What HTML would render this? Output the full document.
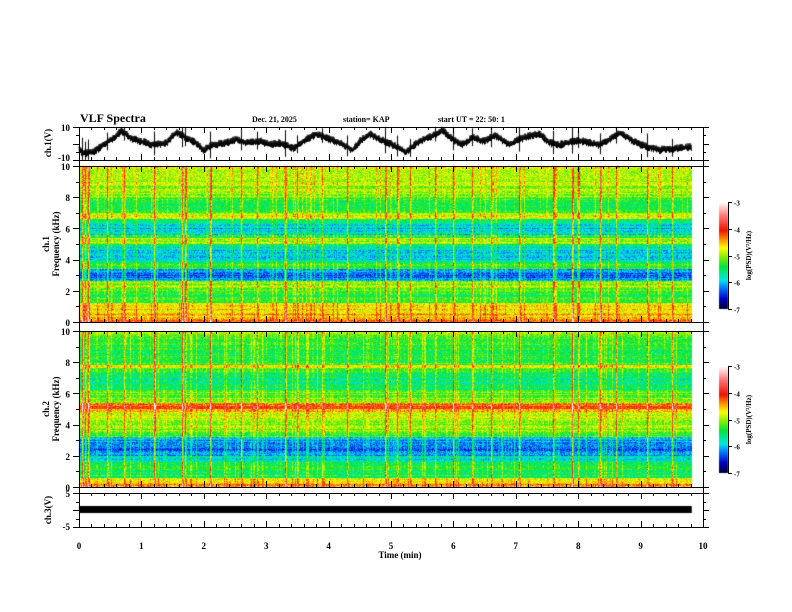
<!DOCTYPE html>
<html><head><meta charset="utf-8">
<style>
html,body{margin:0;padding:0;background:#fff;width:792px;height:612px;overflow:hidden}
#wrap{position:relative;width:792px;height:612px}
canvas,svg{position:absolute;left:0;top:0}
text{font-family:"Liberation Serif",serif;font-weight:bold;fill:#000}
</style></head><body>
<div id="wrap">
<canvas id="spec" width="792" height="612"></canvas>
<svg id="ax" width="792" height="612"></svg>
</div>
<script>
// ---- data ----
const freqBins = [0,0.2,0.4,0.6,0.8,1.0,1.2,1.4,1.6,1.8,2.0,2.2,2.4,2.6,2.8,3.0,3.2,3.4,3.6,3.8,4.0,4.2,4.4,4.6,4.8,5.0,5.2,5.4,5.6,5.8,6.0,6.2,6.4,6.6,6.8,7.0,7.2,7.4,7.6,7.8,8.0,8.2,8.4,8.6,8.8,9.0,9.2,9.4,9.6,9.8];
const ch1Profile = [-4.3,-4.6,-4.5,-4.8,-4.6,-4.7,-5.3,-5.4,-5.4,-5.3,-5.2,-4.9,-5.1,-6.0,-6.3,-6.3,-6.1,-5.4,-5.3,-5.7,-5.9,-6.0,-5.9,-5.9,-5.5,-5.0,-5.0,-5.4,-5.9,-6.0,-5.9,-5.8,-5.5,-4.8,-4.9,-5.4,-5.4,-5.4,-5.3,-5.3,-5.1,-5.0,-5.0,-5.0,-4.9,-5.0,-4.9,-4.9,-4.9,-4.8];
const ch2Profile = [-4.4,-4.6,-4.8,-5.4,-5.5,-5.5,-5.4,-5.4,-5.9,-5.8,-6.1,-6.2,-6.3,-6.2,-6.1,-6.0,-5.3,-5.2,-5.1,-5.0,-5.0,-4.9,-4.9,-4.8,-4.5,-4.1,-4.3,-5.0,-5.1,-5.2,-5.2,-5.5,-5.6,-5.6,-5.7,-5.6,-5.5,-5.3,-4.8,-5.3,-5.4,-5.4,-5.4,-5.4,-5.4,-5.3,-5.3,-5.3,-5.2,-5.1];
const sfericTimes = [0.05,0.1,0.15,0.45,0.72,1.2,1.65,1.7,2.1,2.6,2.85,3.3,3.5,3.9,4.3,4.9,5.1,5.3,5.7,6.0,6.3,6.6,7.05,7.6,7.9,8.0,8.35,8.6,9.1,9.5];
const sfericStrength = [0.9,0.7,0.8,0.6,0.6,0.8,0.9,0.7,0.9,0.7,0.6,0.9,0.6,0.5,0.7,0.9,0.7,0.6,0.5,0.8,0.6,0.7,0.9,0.8,0.9,0.6,0.7,0.6,0.8,0.6];
const traceTimes = [0,0.07,0.23,0.44,0.6,0.68,0.82,0.98,1.19,1.4,1.56,1.72,1.88,1.99,2.15,2.36,2.52,2.68,2.9,3.06,3.22,3.43,3.64,3.8,3.96,4.18,4.39,4.5,4.66,4.82,5.03,5.24,5.46,5.67,5.83,5.99,6.15,6.31,6.47,6.68,6.9,7.06,7.22,7.38,7.54,7.7,8.0,8.35,8.67,8.99,9.31,9.63,9.82];
const traceValues = [-4.0,-6.1,-5.1,0.3,4.6,7.8,3.5,1.4,-0.8,0.3,6.8,3.5,0.3,-4.0,-0.8,0.3,2.5,0.3,1.4,-0.8,0.3,-2.9,2.5,5.7,3.5,0.3,-4.0,1.4,5.7,2.5,-0.8,-5.1,1.4,4.6,7.8,2.5,-0.8,3.5,1.4,4.6,-0.8,2.5,4.6,5.7,0.3,-0.8,2.0,-0.9,6.4,-0.9,-3.9,-2.7,-2.1];
const ch3Value = 0.0;
const timeTicks = [0,1,2,3,4,5,6,7,8,9,10];
const freqTicks = [0,2,4,6,8,10];
const cbarTicks = [-3,-4,-5,-6,-7];

// ---- geometry ----
const X0=79, X1=703, TEND=9.82;
const xs = t => X0 + t*(X1-X0)/10;
const P = {tr:[127,160], c1:[166,322], c2:[331,487], c3:[493,527]};
const ys = (v,lo,hi,p) => p[1] - (v-lo)/(hi-lo)*(p[1]-p[0]);

const cstops=[[-7,[0,0,40]],[-6.6,[0,0,200]],[-6.2,[0,120,255]],[-5.9,[0,230,230]],[-5.4,[0,230,60]],[-5.0,[150,240,0]],[-4.7,[255,255,0]],[-4.4,[255,150,0]],[-4.05,[240,20,0]],[-3.5,[255,120,120]],[-3,[255,255,255]]];
function cmap(v){
  if(v<=cstops[0][0])return cstops[0][1];
  for(let i=1;i<cstops.length;i++){if(v<=cstops[i][0]){const a=cstops[i-1],b=cstops[i];const f=(v-a[0])/(b[0]-a[0]);return a[1].map((c,k)=>c+(b[1][k]-c)*f);}}
  return cstops[cstops.length-1][1];
}
function hash(a,b){let h=(a*374761393+b*668265263)|0;h=(h^(h>>>13))*1274126177|0;return ((h^(h>>>16))>>>0)/4294967296;}
function profAt(prof,f){const i=Math.min(prof.length-1,Math.max(0,Math.floor(f/0.2)));return prof[i];}

const cv=document.getElementById('spec'),ctx=cv.getContext('2d');
function drawSpec(prof,p,seed){
  const x0=X0,x1=Math.round(xs(TEND)),y0=p[0],y1=p[1];
  const w=x1-x0,h=y1-y0;const img=ctx.createImageData(w,h);
  const colBoost=new Float32Array(w);
  sfericTimes.forEach((t,i)=>{const c=Math.round(xs(t))-x0;const s=sfericStrength[i]*1.4;
    if(c>=0&&c<w)colBoost[c]+=s; if(c+1<w)colBoost[c+1]+=s*0.4;});
  for(let c=0;c<w;c++){const q=hash(c,seed+7);colBoost[c]+= q<0.08?0.45:(q<0.2?0.2:0);}
  for(let r=0;r<h;r++){
    const f=(h-r-0.5)/h*10;const base=profAt(prof,f);
    const rowJ=(hash(r,seed)-0.5)*0.35;
    for(let c=0;c<w;c++){
      let v=base+rowJ+(hash(c*3+seed,r)-0.5)*0.55+colBoost[c];
      const col=cmap(v);const k=(r*w+c)*4;
      img.data[k]=col[0];img.data[k+1]=col[1];img.data[k+2]=col[2];img.data[k+3]=255;
    }
  }
  ctx.putImageData(img,x0,y0);
}
drawSpec(ch1Profile,P.c1,11);
drawSpec(ch2Profile,P.c2,53);
function drawCbar(yTop,yBot){
  for(let y=yTop;y<yBot;y++){const v=-3-(y-yTop)/(yBot-yTop)*4;const c=cmap(v);ctx.fillStyle=`rgb(${c[0]|0},${c[1]|0},${c[2]|0})`;ctx.fillRect(719,y,9,1);}
}
drawCbar(202,309);drawCbar(366,473);
// trace: interpolated series with a jagged stroke texture
function traceAt(t){let k=0;while(k<traceTimes.length-2&&traceTimes[k+1]<t)k++;
  const f=Math.max(0,Math.min(1,(t-traceTimes[k])/(traceTimes[k+1]-traceTimes[k])));return traceValues[k]+(traceValues[k+1]-traceValues[k])*f;}
ctx.strokeStyle='#000';ctx.lineWidth=1;ctx.beginPath();
const xe=xs(TEND);
for(let x=X0;x<=xe;x+=0.5){const t=(x-X0)/(X1-X0)*10;const y=ys(traceAt(t),-10,10,P.tr)+((Math.round(x*2)%2)?1:-1)*(1.5+hash(Math.round(x*2),5)*2.5);
  x===X0?ctx.moveTo(x,y):ctx.lineTo(x,y);}
ctx.stroke();
sfericTimes.forEach((t,i)=>{const x=Math.round(xs(t))+0.5;const v=traceAt(t);
  ctx.beginPath();ctx.moveTo(x,ys(Math.min(10,v+sfericStrength[i]*10),-10,10,P.tr));ctx.lineTo(x,ys(Math.max(-10,v-sfericStrength[i]*8),-10,10,P.tr));ctx.stroke();});
ctx.fillStyle='#000';const yc=ys(ch3Value,-5,5,P.c3);ctx.fillRect(X0,yc-4,xs(TEND)-X0,7);

// ---- SVG axes ----
const svg=document.getElementById('ax');const NS='http://www.w3.org/2000/svg';
function el(tag,attrs,txt){const e=document.createElementNS(NS,tag);for(const k in attrs)e.setAttribute(k,attrs[k]);if(txt!==undefined)e.textContent=txt;svg.appendChild(e);return e;}
function line(x1,y1,x2,y2,name){const e=el('line',{x1,y1,x2,y2,stroke:'#000','stroke-width':1});

return e;}
function txt(x,y,s,size,anchor,name,rot){const a={x,y,'font-size':size,'text-anchor':anchor||'start'};if(rot)a.transform=`rotate(-90 ${x} ${y})`;const e=el('text',a,s);

return e;}

line(X0+.5,P.tr[0],X0+.5,P.c3[1],'left-axis');
line(X1+.5,P.tr[0],X1+.5,P.c3[1],'right-axis');
Object.keys(P).forEach(k=>{const p=P[k];line(X0,p[0]+.5,X1+5,p[0]+.5,'panel-top-'+k);line(X0,p[1]+.5,X1+5,p[1]+.5,'panel-bottom-'+k);
  for(let t=0;t<=10.001;t+=0.2){const x=Math.round(xs(t))+.5;const major=Math.abs(t-Math.round(t))<0.01;const L=major?6:3;
    line(x,p[0],x,p[0]+L,'x-tick');line(x,p[1],x,p[1]-L,'x-tick');}
});
function yTicks(p,n,minor){for(let i=0;i<=n*minor;i++){const y=Math.round(p[1]-i/(n*minor)*(p[1]-p[0]))+.5;const L=i%minor===0?6:3;line(X0-L,y,X0,y,'y-tick');line(X1,y,X1+L,y,'y-tick');}}
yTicks(P.tr,2,2);yTicks(P.c1,5,2);yTicks(P.c2,5,2);yTicks(P.c3,2,2);
txt(70,P.tr[0]+4,'10',9,'end','trace-ytick-10');txt(70,P.tr[1]+1,'-10',9,'end','trace-ytick-neg10');
[P.c1,P.c2].forEach((p,j)=>freqTicks.forEach(f=>txt(70,ys(f,0,10,p)+4,String(f),9,'end','freq-tick-label')));
txt(70,P.c3[0]+4,'5',9,'end','ch3-ytick-5');txt(70,P.c3[1]+3,'-5',9,'end','ch3-ytick-neg5');
timeTicks.forEach(t=>txt(xs(t),P.c3[1]+22,String(t),9,'middle','time-tick-label'));
txt(400,558,'Time  (min)',9,'middle','x-axis-title');
txt(51,143,'ch.1(V)',9,'middle','trace-y-title',true);
txt(49,244,'ch.1',9,'middle','ch1-y-title',true);txt(59,244,'Frequency  (kHz)',9,'middle','ch1-freq-title',true);
txt(49,409,'ch.2',9,'middle','ch2-y-title',true);txt(59,409,'Frequency  (kHz)',9,'middle','ch2-freq-title',true);
txt(51,510,'ch.3(V)',9,'middle','ch3-y-title',true);
txt(80,122,'VLF Spectra',12,'start','chart-title');
txt(252,122,'Dec. 21, 2025',8,'start','date-label');
txt(343,122,'station= KAP',8,'start','station-label');
txt(438,122,'start  UT  =    22: 50: 1',8,'start','start-time-label');
[[202,309],[366,473]].forEach((b,j)=>{
  line(728.5,b[0],728.5,b[1],'colorbar-axis');
  cbarTicks.forEach(v=>{const y=Math.round(b[0]+(-3-v)/4*(b[1]-b[0]))+.5;line(728,y,732,y,'colorbar-tick');txt(734,y+3,String(v),7,'start','colorbar-tick-label');});
  txt(751,(b[0]+b[1])/2,'log(PSD)(V²/Hz)',7,'middle','colorbar-title',true);
});
</script>
</body></html>
